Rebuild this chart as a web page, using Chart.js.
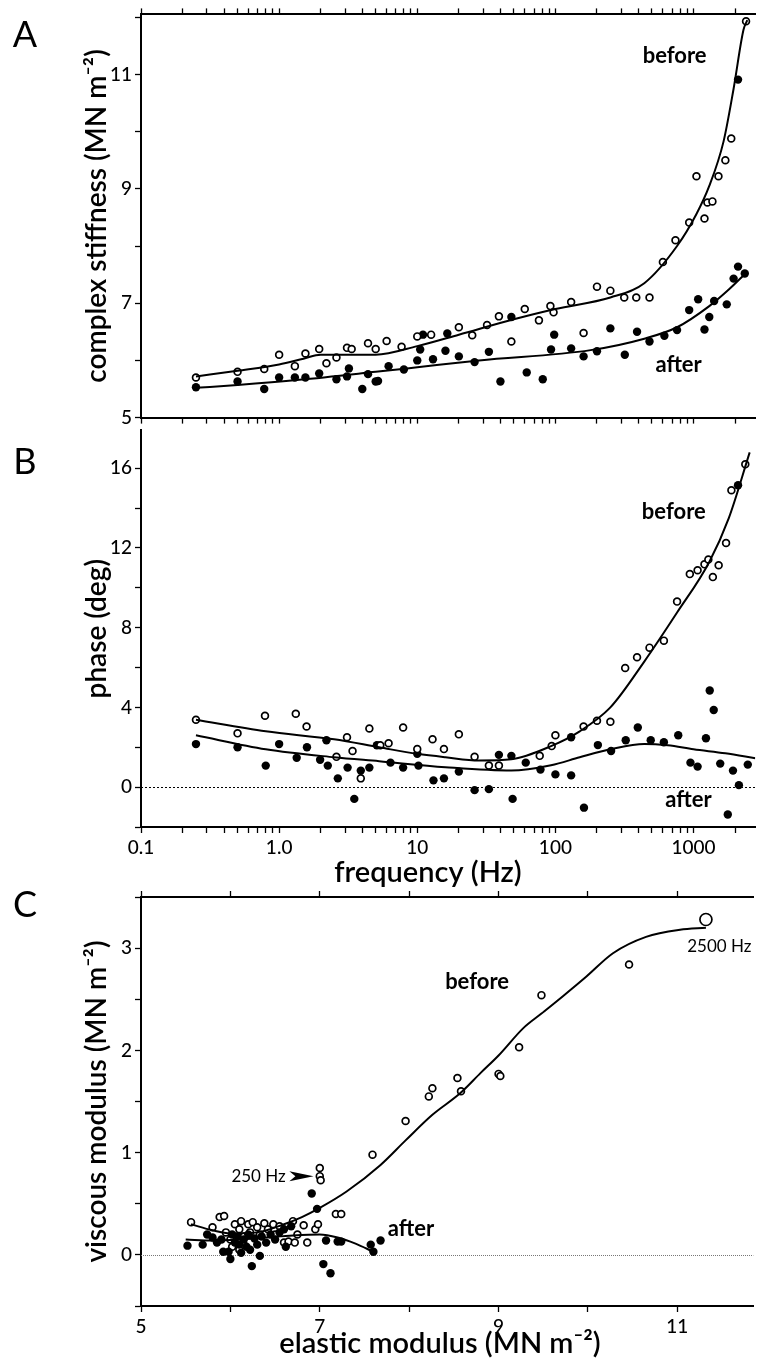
<!DOCTYPE html>
<html>
<head>
<meta charset="utf-8">
<script src="https://cdn.jsdelivr.net/npm/chart.js@4.4.1/dist/chart.umd.min.js"></script>
<style>
  body { margin: 0; background: #fff; width: 761px; height: 1364px; position: relative; overflow: hidden; }
  .panel { position: absolute; left: 0; width: 761px; }
</style>
</head>
<body>
<div class="panel" style="top:0px;height:432px"><canvas id="chartA" width="761" height="432"></canvas></div>
<div class="panel" style="top:416px;height:475px"><canvas id="chartB" width="761" height="475"></canvas></div>
<div class="panel" style="top:880px;height:484px"><canvas id="chartC" width="761" height="484"></canvas></div>
<script>
// ---- Panel A: complex stiffness (MN m-2) vs frequency (Hz) ----
const freqBeforeA = [0.25, 0.5, 0.78, 1.0, 1.3, 1.55, 1.95, 2.2, 2.6, 3.1, 3.35, 4.4, 5.0, 6.0, 7.7, 10, 12.6, 20, 25, 32, 39, 48, 60, 76, 92, 97, 130, 160, 200, 250, 315, 385, 480, 600, 740, 930, 1050, 1200, 1260, 1370, 1515, 1700, 1875, 2400];
const stiffBeforeA = [5.70, 5.80, 5.85, 6.10, 5.90, 6.12, 6.20, 5.95, 6.05, 6.22, 6.20, 6.30, 6.20, 6.34, 6.24, 6.42, 6.45, 6.58, 6.44, 6.62, 6.77, 6.33, 6.90, 6.70, 6.95, 6.84, 7.02, 6.48, 7.29, 7.22, 7.10, 7.10, 7.10, 7.72, 8.10, 8.41, 9.22, 8.48, 8.76, 8.78, 9.22, 9.50, 9.88, 11.93];
const freqAfterA = [0.25, 0.5, 0.78, 1.0, 1.3, 1.55, 1.95, 2.6, 3.1, 3.2, 4.0, 4.4, 5.0, 5.2, 6.2, 8, 10, 10.5, 11, 13, 16, 16.5, 20, 26, 33, 40, 48, 62, 81, 93, 98, 130, 160, 200, 250, 318, 390, 480, 615, 760, 930, 1080, 1200, 1300, 1410, 1740, 1950, 2100, 2100, 2350];
const stiffAfterA = [5.53, 5.63, 5.50, 5.70, 5.70, 5.70, 5.77, 5.67, 5.72, 5.86, 5.50, 5.76, 5.63, 5.64, 5.90, 5.84, 6.00, 6.19, 6.45, 6.02, 6.17, 6.47, 6.07, 5.97, 6.15, 5.63, 6.76, 5.79, 5.67, 6.19, 6.45, 6.21, 6.07, 6.16, 6.56, 6.10, 6.50, 6.33, 6.43, 6.53, 6.88, 7.07, 6.54, 6.76, 7.04, 6.98, 7.43, 7.64, 10.91, 7.52];
const fitFreqBeforeA = [0.25, 0.5, 1, 1.5, 2, 3, 5, 10, 20, 50, 100, 250, 440, 760, 1050, 1300, 1650, 1950, 2300, 2450];
const fitBeforeA = [5.72, 5.82, 5.93, 6.03, 6.10, 6.10, 6.10, 6.25, 6.45, 6.72, 6.90, 7.10, 7.35, 8.00, 8.56, 9.05, 9.83, 10.75, 11.78, 11.95];
const fitFreqAfterA = [0.25, 0.5, 1.4, 5, 10, 28, 180, 440, 760, 1300, 1800, 2400];
const fitAfterA = [5.52, 5.57, 5.66, 5.80, 5.88, 6.00, 6.18, 6.38, 6.58, 6.95, 7.24, 7.53];

// ---- Panel B: phase (deg) vs frequency (Hz) ----
const freqBeforeB = [0.25, 0.5, 0.79, 1.32, 1.58, 2.6, 3.1, 3.4, 3.9, 4.5, 5.4, 6.2, 7.9, 10, 12.9, 15.6, 20, 26, 33, 39, 77, 94, 100, 160, 200, 250, 320, 390, 480, 610, 760, 940, 1070, 1200, 1280, 1380, 1520, 1720, 1880, 2370];
const phaseBeforeB = [3.38, 2.70, 3.58, 3.68, 3.04, 1.52, 2.50, 1.81, 0.44, 2.94, 2.10, 2.20, 2.99, 1.91, 2.40, 1.91, 2.65, 1.52, 1.08, 1.08, 1.57, 2.06, 2.60, 3.04, 3.33, 3.28, 5.98, 6.52, 7.00, 7.35, 9.31, 10.69, 10.88, 11.18, 11.42, 10.54, 11.13, 12.25, 14.90, 16.20];
const freqAfterB = [0.25, 0.5, 0.8, 1.0, 1.34, 1.59, 1.98, 2.2, 2.25, 2.66, 3.13, 3.5, 3.9, 4.5, 5.1, 6.4, 7.9, 10.2, 10, 13.1, 15.6, 20, 26, 33, 39, 48, 49, 61, 78, 100, 130, 130, 161, 203, 253, 323, 395, 490, 610, 775, 950, 1070, 1230, 1310, 1400, 1560, 1770, 1930, 2100, 2130, 2470];
const phaseAfterB = [2.16, 2.00, 1.08, 2.16, 1.47, 2.00, 1.37, 2.35, 1.08, 0.44, 0.98, -0.59, 0.83, 0.98, 2.10, 1.23, 0.98, 1.08, 1.67, 0.34, 0.44, 0.78, -0.15, -0.10, 1.62, 1.57, -0.59, 1.23, 0.88, 0.64, 2.50, 0.59, -1.03, 2.11, 1.81, 2.35, 2.99, 2.35, 2.25, 2.60, 1.23, 1.03, 2.45, 4.85, 3.87, 1.18, -1.37, 0.83, 15.15, 0.10, 1.13];
const fitFreqBeforeB = [0.25, 0.8, 2.5, 5.3, 10, 16, 28, 48, 93, 150, 250, 440, 760, 1300, 1800, 2550];
const fitBeforeB = [3.38, 2.80, 2.40, 2.00, 1.67, 1.50, 1.34, 1.40, 2.06, 2.80, 4.00, 6.30, 8.76, 11.30, 13.50, 16.80];
const fitFreqAfterB = [0.25, 0.8, 2.5, 5.3, 16, 48, 93, 150, 250, 440, 650, 1000, 1700, 2800];
const fitAfterB = [2.60, 1.90, 1.50, 1.30, 1.00, 0.83, 1.10, 1.50, 1.90, 2.17, 2.10, 1.90, 1.70, 1.45];

// ---- Panel C: viscous vs elastic modulus (MN m-2) ----
const elasticBefore = [5.56, 5.80, 5.88, 5.93, 5.95, 6.00, 6.02, 6.05, 6.10, 6.10, 6.12, 6.15, 6.15, 6.20, 6.22, 6.25, 6.30, 6.33, 6.38, 6.42, 6.48, 6.50, 6.55, 6.60, 6.65, 6.70, 6.72, 6.75, 6.82, 6.86, 6.95, 6.98, 7.00, 7.00, 7.01, 7.18, 7.24, 7.59, 7.96, 8.22, 8.26, 8.54, 8.58, 9.00, 9.02, 9.23, 9.48, 10.46, 11.32];
const viscousBefore = [0.32, 0.27, 0.37, 0.38, 0.22, 0.15, 0.08, 0.30, 0.25, 0.05, 0.33, 0.18, 0.10, 0.30, 0.22, 0.32, 0.27, 0.20, 0.31, 0.25, 0.30, 0.20, 0.28, 0.12, 0.13, 0.33, 0.12, 0.20, 0.29, 0.12, 0.25, 0.30, 0.85, 0.77, 0.73, 0.40, 0.40, 0.98, 1.31, 1.55, 1.63, 1.73, 1.60, 1.77, 1.75, 2.03, 2.54, 2.84, 3.28];
const elasticAfter = [5.52, 5.69, 5.74, 5.80, 5.85, 5.90, 5.92, 5.98, 6.00, 6.02, 6.05, 6.08, 6.10, 6.12, 6.15, 6.18, 6.20, 6.22, 6.24, 6.27, 6.30, 6.33, 6.35, 6.40, 6.45, 6.50, 6.55, 6.60, 6.62, 6.68, 6.91, 6.97, 7.04, 7.07, 7.12, 7.20, 7.24, 7.57, 7.60, 7.68];
const viscousAfter = [0.09, 0.10, 0.20, 0.17, 0.12, 0.15, 0.03, 0.03, -0.04, 0.20, 0.12, 0.18, 0.10, 0.02, 0.15, 0.08, 0.20, 0.05, -0.11, 0.16, 0.10, -0.01, 0.18, 0.12, 0.20, 0.15, 0.22, 0.25, 0.08, 0.28, 0.60, 0.45, -0.09, 0.14, -0.18, 0.13, 0.13, 0.10, 0.03, 0.14];
const fitElasticBefore = [5.56, 5.80, 6.00, 6.30, 6.60, 6.80, 7.00, 7.30, 7.68, 7.96, 8.26, 8.57, 8.80, 9.00, 9.28, 9.48, 9.72, 9.98, 10.28, 10.65, 11.03, 11.32];
const fitViscousBefore = [0.30, 0.24, 0.21, 0.22, 0.30, 0.37, 0.46, 0.62, 0.88, 1.12, 1.37, 1.58, 1.78, 1.95, 2.22, 2.36, 2.53, 2.72, 2.95, 3.11, 3.18, 3.20];
const fitElasticAfter = [5.50, 5.80, 6.10, 6.40, 6.70, 7.00, 7.20, 7.40, 7.60];
const fitViscousAfter = [0.15, 0.14, 0.15, 0.17, 0.19, 0.20, 0.17, 0.11, 0.03];

// ---- ticks ----
const freqDecades = [0.1, 1, 10, 100, 1000];
const freqDecadeLabels = ['0.1', '1.0', '10', '100', '1000'];

const FONT = "Lato, 'Open Sans', sans-serif";
Chart.defaults.font.family = FONT;
Chart.defaults.color = '#000';

const pts = (xs, ys) => xs.map((x, i) => ({x: x, y: ys[i]}));

const openPts = (data, extra) => Object.assign({
  data: data, showLine: false, pointRadius: 3.4, pointBorderWidth: 1.7,
  pointBackgroundColor: '#fff', pointBorderColor: '#000'
}, extra || {});
const filledPts = data => ({
  data: data, showLine: false, pointRadius: 4.2, pointBorderWidth: 0,
  pointBackgroundColor: '#000', pointBorderColor: '#000'
});
const fitLine = data => ({
  data: data, showLine: true, pointRadius: 0, borderColor: '#000', borderWidth: 2,
  cubicInterpolationMode: 'monotone', fill: false
});

// minor log ticks 1..9 per decade
function freqTickValues(max) {
  const out = [];
  freqDecades.forEach(d => {
    for (let m = 1; m <= 9; m++) {
      const v = +(d * m).toPrecision(3);
      if (v <= max) out.push(v);
    }
  });
  return out;
}

// text drawn in data or pixel coordinates
const notesPlugin = {
  id: 'notes',
  afterDraw(chart, args, opts) {
    const items = opts.items || [];
    const {ctx, scales} = chart;
    items.forEach(n => {
      const x = n.px !== undefined ? n.px : scales.x.getPixelForValue(n.x);
      const y = n.py !== undefined ? n.py : scales.y.getPixelForValue(n.y);
      ctx.save();
      ctx.fillStyle = '#000';
      if (n.arrowTo !== undefined) {
        const x2 = scales.x.getPixelForValue(n.arrowTo);
        ctx.beginPath();
        ctx.moveTo(x2, y);
        ctx.lineTo(x, y - 5);
        ctx.lineTo(x + 6, y);
        ctx.lineTo(x, y + 5);
        ctx.closePath();
        ctx.fill();
      } else {
        ctx.font = n.font;
        ctx.textAlign = n.align || 'center';
        ctx.textBaseline = 'middle';
        ctx.translate(x, y);
        ctx.fillText(n.text, 0, 0);
      }
      ctx.restore();
    });
  }
};

const zeroLinePlugin = {
  id: 'zeroLine',
  beforeDatasetsDraw(chart, args, opts) {
    if (!opts.show) return;
    const {ctx, chartArea, scales} = chart;
    const y = Math.round(scales.y.getPixelForValue(0)) + 0.5;
    ctx.save();
    ctx.setLineDash(opts.dash);
    ctx.strokeStyle = opts.color;
    ctx.lineWidth = 1;
    ctx.beginPath();
    ctx.moveTo(chartArea.left, y);
    ctx.lineTo(chartArea.right, y);
    ctx.stroke();
    ctx.restore();
  }
};

const tickFont = {size: 19, family: FONT, weight: '500'};
const titleFont = {size: 28, family: FONT, weight: '600'};
const xTitleFont = '600 29px ' + FONT;
const noteFont = 'bold 22px ' + FONT;
const smallFont = '17px ' + FONT;
const letterFont = '36px ' + FONT;

const gridOpts = {drawOnChartArea: false, drawTicks: true, tickLength: 6, color: '#000', tickWidth: 1.3};
const borderOpts = {display: true, color: '#000', width: 2};

function yAxis(min, max, step, labelFn, title) {
  return {
    type: 'linear', position: 'left', min: min, max: max,
    ticks: {stepSize: step, includeBounds: false, font: tickFont, padding: 3, autoSkip: false, callback: labelFn},
    grid: gridOpts, border: borderOpts,
    title: {display: true, text: title, font: titleFont, padding: {top: 80, bottom: 0}},
    afterFit: s => { s.width = 141; }
  };
}

function freqAxis(position, showLabels, height) {
  return {
    type: 'logarithmic', position: position, min: 0.1, max: 2800,
    ticks: {
      display: showLabels, font: tickFont, padding: 3, autoSkip: false, maxRotation: 0,
      callback: v => {
        const i = freqDecades.findIndex(d => Math.abs(d - v) < d * 1e-6);
        return i >= 0 ? freqDecadeLabels[i] : '';
      }
    },
    grid: gridOpts, border: borderOpts,
    afterBuildTicks: s => { s.ticks = freqTickValues(2800).map(v => ({value: v})); },
    afterFit: s => { s.height = height; }
  };
}

const baseOptions = (padding) => ({
  responsive: false, animation: false, events: [],
  layout: {padding: padding},
});

// ---- A ----
new Chart(document.getElementById('chartA'), {
  type: 'scatter',
  data: {
    datasets: [
      fitLine(pts(fitFreqBeforeA, fitBeforeA)),
      fitLine(pts(fitFreqAfterA, fitAfterA)),
      openPts(pts(freqBeforeA, stiffBeforeA)),
      filledPts(pts(freqAfterA, stiffAfterA))
    ]
  },
  options: Object.assign(baseOptions({top: 10, right: 2, left: 0, bottom: 0}), {
    scales: {
      x: freqAxis('bottom', false, 11),
      xTop: freqAxis('top', false, 0),
      y: yAxis(5, 12.05, 1, v => (Number.isInteger(v) && v % 2 === 1) ? String(v) : '', 'complex stiffness (MN m\u207B\u00B2)')
    },
    plugins: {
      legend: {display: false}, tooltip: {enabled: false},
      notes: {items: [
        {text: 'before', x: 730, y: 11.33, font: noteFont},
        {text: 'after', x: 780, y: 5.93, font: noteFont},
        {text: 'A', px: 25, py: 35, font: letterFont}
      ]}
    }
  }),
  plugins: [notesPlugin, zeroLinePlugin]
});

// ---- B ----
new Chart(document.getElementById('chartB'), {
  type: 'scatter',
  data: {
    datasets: [
      fitLine(pts(fitFreqBeforeB, fitBeforeB)),
      fitLine(pts(fitFreqAfterB, fitAfterB)),
      openPts(pts(freqBeforeB, phaseBeforeB)),
      filledPts(pts(freqAfterB, phaseAfterB))
    ]
  },
  options: Object.assign(baseOptions({top: 5, right: 2, left: 0, bottom: 0}), {
    scales: {
      x: freqAxis('bottom', true, 64),
      y: yAxis(-2, 17.9, 2, v => (Number.isInteger(v) && v % 4 === 0) ? String(v) : '', 'phase (deg)')
    },
    plugins: {
      legend: {display: false}, tooltip: {enabled: false},
      zeroLine: {show: true, dash: [2, 2], color: '#000'},
      notes: {items: [
        {text: 'before', x: 720, y: 13.8, font: noteFont},
        {text: 'after', x: 920, y: -0.64, font: noteFont},
        {text: 'frequency (Hz)', px: 428, py: 457, font: xTitleFont},
        {text: 'B', px: 25, py: 46, font: letterFont}
      ]}
    }
  }),
  plugins: [notesPlugin, zeroLinePlugin]
});

// ---- C ----
const lastBefore = elasticBefore.length - 1;
new Chart(document.getElementById('chartC'), {
  type: 'scatter',
  data: {
    datasets: [
      fitLine(pts(fitElasticBefore, fitViscousBefore)),
      fitLine(pts(fitElasticAfter, fitViscousAfter)),
      filledPts(pts(elasticAfter, viscousAfter)),
      openPts(pts(elasticBefore, viscousBefore), {
        pointRadius: c => c.dataIndex === lastBefore ? 6 : 3.4
      })
    ]
  },
  options: Object.assign(baseOptions({top: 17, right: 2, left: 0, bottom: 0}), {
    scales: {
      x: {
        type: 'linear', position: 'bottom', min: 5, max: 11.85,
        ticks: {stepSize: 1, includeBounds: false, font: tickFont, padding: 3, autoSkip: false, maxRotation: 0,
          callback: v => (Number.isInteger(v) && v % 2 === 1) ? String(v) : ''},
        grid: gridOpts, border: borderOpts,
        afterFit: s => { s.height = 58; }
      },
      xTop: {
        type: 'linear', position: 'top', min: 5, max: 11.85,
        ticks: {stepSize: 1, includeBounds: false, display: false},
        grid: gridOpts, border: borderOpts,
        afterFit: s => { s.height = 0; }
      },
      y: yAxis(-0.5, 3.5, 0.5, v => Number.isInteger(v) ? String(v) : '', 'viscous modulus (MN m\u207B\u00B2)')
    },
    plugins: {
      legend: {display: false}, tooltip: {enabled: false},
      zeroLine: {show: true, dash: [1, 1], color: '#777'},
      notes: {items: [
        {text: 'before', x: 8.76, y: 2.67, font: noteFont},
        {text: 'after', x: 8.02, y: 0.25, font: noteFont},
        {text: '2500 Hz', x: 11.47, y: 3.02, font: smallFont},
        {text: '250 Hz', x: 6.62, y: 0.77, font: smallFont, align: 'right'},
        {x: 6.66, arrowTo: 6.93, y: 0.77},
        {text: 'elastic modulus (MN m\u207B\u00B2)', px: 440, py: 464, font: xTitleFont},
        {text: 'C', px: 25, py: 25, font: letterFont}
      ]}
    }
  }),
  plugins: [notesPlugin, zeroLinePlugin]
});
</script>
</body>
</html>
